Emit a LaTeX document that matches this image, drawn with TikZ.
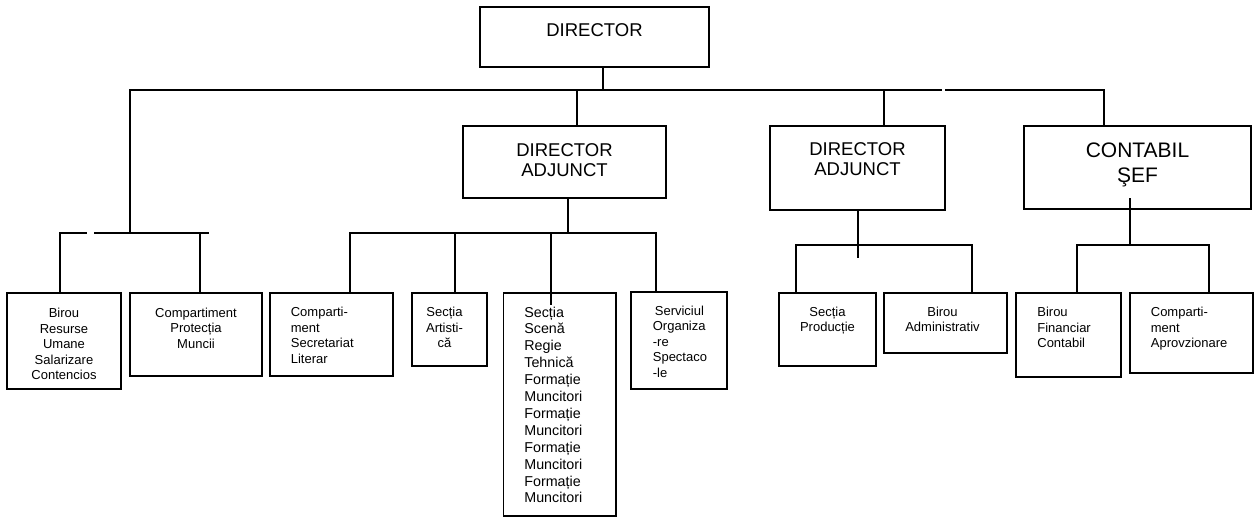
\documentclass[tikz,border=0pt]{standalone}
\usepackage{fontspec}
\setmainfont{Liberation Sans}
\begin{document}
\begin{tikzpicture}[x=1pt,y=-1pt,line width=1.7pt,
  box/.style={draw,inner sep=0pt,outer sep=0pt,anchor=north west},
  sm/.style={font=\fontsize{13}{15.5}\selectfont,inner sep=0pt,anchor=north,align=center},
  sml/.style={sm,anchor=north west,align=left},
  tall/.style={font=\fontsize{14.3}{16.9}\selectfont,inner sep=0pt,anchor=north west,align=left},
  big/.style={font=\fontsize{18.5}{20.5}\selectfont,inner sep=0pt,anchor=north,align=center},
  huge/.style={font=\fontsize{21}{25.8}\selectfont,inner sep=0pt,anchor=north,align=center}]
\useasboundingbox (0,0) rectangle (1257,517);
\newcommand{\obox}[5]{\node[box,minimum width={#4-#2},minimum height={#5-#3}] (#1) at (#2,#3) {};}
% boxes
\obox{D}{480}{7}{709}{67}
\obox{DA1}{463}{126}{666}{198}
\obox{DA2}{770}{126}{945}{210}
\obox{CS}{1024}{126}{1251}{209}
\obox{L1}{7}{293}{121}{389}
\obox{L2}{130}{293}{262}{376}
\obox{S1}{270}{293}{393}{376}
\obox{S2}{412}{293}{487}{366}
\obox{S3}{503.5}{293}{616}{516}
\obox{S4}{631}{292}{727}{389}
\obox{P1}{779}{293}{876}{366}
\obox{P2}{884}{293}{1007}{353}
\obox{C1}{1016}{293}{1121}{377}
\obox{C2}{1130}{293}{1253}{373}
% texts
\node[big] (tD) at ([yshift=-16pt]D.north) {DIRECTOR};
\node[big] (tDA1) at ([yshift=-16.5pt]DA1.north) {DIRECTOR\\ADJUNCT};
\node[big] (tDA2) at ([yshift=-15.7pt]DA2.north) {DIRECTOR\\ADJUNCT};
\node[huge] (tCS) at ([yshift=-15.5pt]CS.north) {CONTABIL\\ŞEF};
\node[sm] (tL1) at ([yshift=-14.5pt]L1.north) {Birou\\Resurse\\Umane\\Salarizare\\Contencios};
\node[sm] (tL2) at ([yshift=-14pt]L2.north) {Compartiment\\Protecția\\Muncii};
\node[sml] (tS1) at ([xshift=20pt,yshift=-13.5pt]S1.north west) {Comparti-\\ment\\Secretariat\\Literar};
\node[sm] (tS2) at ([xshift=-5pt,yshift=-13.5pt]S2.north) {Secția\\Artisti-\\că};
\node[tall] (tS3) at ([xshift=20pt,yshift=-12.8pt]S3.north west) {Secția\\Scenă\\Regie\\Tehnică\\Formație\\Muncitori\\Formație\\Muncitori\\Formație\\Muncitori\\Formație\\Muncitori};
\node[sml] (tS4) at ([xshift=21pt,yshift=-13pt]S4.north west) {\hspace*{2pt}Serviciul\\Organiza\\-re\\Spectaco\\-le};
\node[sm] (tP1) at ([yshift=-13pt]P1.north) {Secția\\Producție};
\node[sm] (tP2) at ([xshift=-3pt,yshift=-13pt]P2.north) {Birou\\Administrativ};
\node[sml] (tC1) at ([xshift=20.5pt,yshift=-13.5pt]C1.north west) {Birou\\Financiar\\Contabil};
\node[sml] (tC2) at ([xshift=20pt,yshift=-13.5pt]C2.north west) {Comparti-\\ment\\Aprovzionare};
% main bus
\coordinate (bL) at (130,90);
\coordinate (bR) at (1104,90);
\coordinate (g1) at (942,90);
\coordinate (g2) at (945,90);
\coordinate (jD) at (603,90);
\coordinate (jA) at (577,90);
\coordinate (jB) at (884,90);
\coordinate (jL) at (130,233);
\draw (D.south -| jD) -- (jD);
\draw (jL) -- (bL) -- (g1);
\draw (g2) -- (bR) -- (bR |- CS.north);
\draw (jA) -- (jA |- DA1.north);
\draw (jB) -- (jB |- DA2.north);
% left group
\coordinate (l1) at (60,233);
\coordinate (l2) at (200,233);
\coordinate (lg1) at (87,233);
\coordinate (lg2) at (94,233);
\coordinate (lend) at (209,233);
\draw (L1.north -| l1) -- (l1) -- (lg1);
\draw (lg2) -- (lend);
\draw (l2) -- (l2 |- L2.north);
% director adjunct 1 group
\coordinate (a0) at (568,233);
\coordinate (a1) at (350,233);
\coordinate (a2) at (455,233);
\coordinate (a3) at (551,233);
\coordinate (a4) at (656,233);
\draw (DA1.south -| a0) -- (a0);
\draw (S1.north -| a1) -- (a1) -- (a4) -- (a4 |- S4.north);
\draw (a2) -- (a2 |- S2.north);
\draw (a3) -- (a3 |- S3.north) -- ++(0,12);
% director adjunct 2 group
\coordinate (p0) at (858,245);
\coordinate (p1) at (796,245);
\coordinate (p2) at (972,245);
\draw (DA2.south -| p0) -- (p0) -- ++(0,13);
\draw (P1.north -| p1) -- (p1) -- (p2) -- (p2 |- P2.north);
% contabil sef group
\coordinate (c0) at (1130,245);
\coordinate (c1) at (1077,245);
\coordinate (c2) at (1209,245);
\draw (CS.south -| c0) ++(0,-11) -- (c0);
\draw (C1.north -| c1) -- (c1) -- (c2) -- (c2 |- C2.north);
\end{tikzpicture}
\end{document}
